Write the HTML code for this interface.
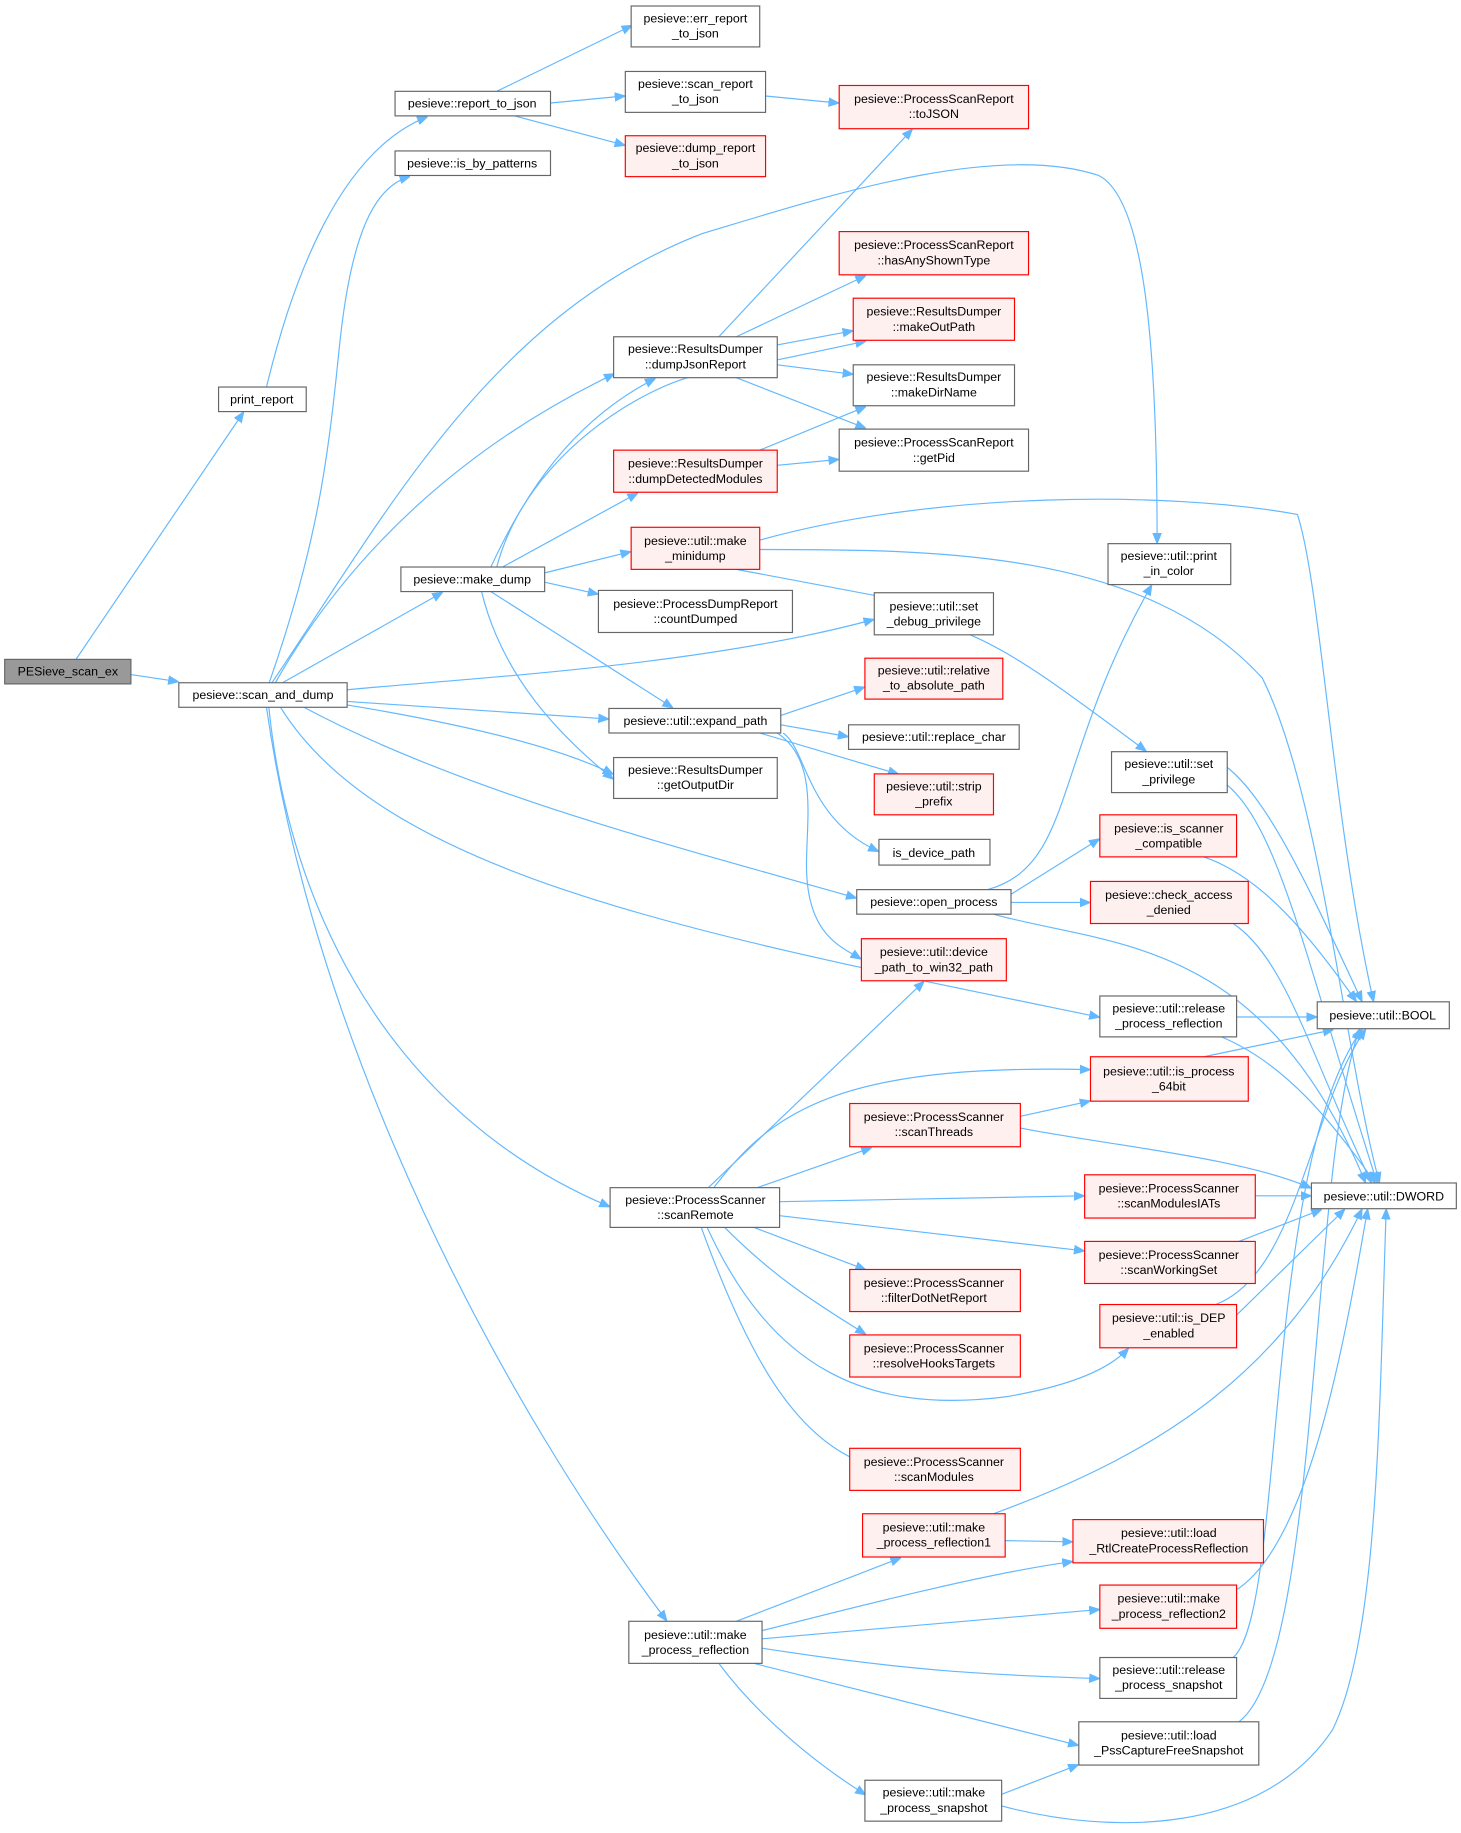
<!DOCTYPE html>
<html><head><meta charset="utf-8"><style>
html,body{margin:0;padding:0;background:#fff;}
svg{display:block;}
text{font-family:"Liberation Sans",Arial,sans-serif;font-size:10.6px;fill:#000;text-anchor:middle;}
.g{fill:#fff;stroke:#666;stroke-width:1;}
.r{fill:#fff0f0;stroke:#f00;stroke-width:1;}
.d{fill:#999;stroke:#666;stroke-width:1;}
path{fill:none;stroke:#63b8ff;stroke-width:1;}
</style></head><body>
<svg width="1461" height="1833" viewBox="0 0 1250 1568" xmlns="http://www.w3.org/2000/svg">
<defs><marker id="a" viewBox="0 0 10 10" refX="9" refY="5" markerWidth="9" markerHeight="9" orient="auto" markerUnits="userSpaceOnUse"><path d="M0,1 L10,5 L0,9 z" style="fill:#63b8ff;stroke:#63b8ff"/></marker></defs>
<g marker-end="url(#a)">
<path d="M65,564 L208,353"/>
<path d="M112,577 L152,583"/>
<path d="M228,331 C250,240 290,130 365,100"/>
<path d="M425,78 L540,22"/>
<path d="M471,88 L534,82"/>
<path d="M440,99 L534,124"/>
<path d="M655,82 L717,88"/>
<path d="M230,585 C270,470 280,400 290,300 C300,200 320,160 350,151"/>
<path d="M232,585 C330,440 420,270 600,200 C700,170 850,120 940,150 C980,170 990,300 990,464"/>
<path d="M235,585 C300,470 400,380 525,320"/>
<path d="M240,585 L378,507"/>
<path d="M297,590 C400,580 600,570 747,530"/>
<path d="M297,600 L520,615"/>
<path d="M297,603 C400,620 480,640 524,662"/>
<path d="M260,605 C400,680 600,730 732,768"/>
<path d="M240,605 C330,750 600,800 940,870"/>
<path d="M230,605 C250,800 350,960 521,1032"/>
<path d="M228,605 C270,900 430,1200 570,1386"/>
<path d="M615,288 L780,111"/>
<path d="M630,288 L740,236"/>
<path d="M665,295 L729,283"/>
<path d="M665,312 L729,320"/>
<path d="M630,323 L740,366"/>
<path d="M650,385 L740,348"/>
<path d="M665,398 L717,393"/>
<path d="M420,485 C450,420 490,360 560,324"/>
<path d="M425,485 C450,390 550,330 600,320 C660,310 700,300 740,292"/>
<path d="M430,485 L545,422"/>
<path d="M466,490 L539,472"/>
<path d="M466,498 L511,508"/>
<path d="M420,506 L575,605"/>
<path d="M412,506 C430,580 480,630 524,666"/>
<path d="M650,462 C800,420 1000,420 1110,440 C1130,500 1140,700 1175,856"/>
<path d="M650,470 C800,470 980,470 1080,580 C1130,680 1150,900 1180,1011"/>
<path d="M630,487 L768,513"/>
<path d="M830,543 C870,560 910,590 980,642"/>
<path d="M668,612 L739,588"/>
<path d="M668,620 L725,630"/>
<path d="M650,627 L768,662"/>
<path d="M670,627 C690,640 690,700 751,728"/>
<path d="M665,627 C700,650 690,700 690,740 C690,800 720,810 736,820"/>
<path d="M1040,650 C1080,670 1120,760 1165,856"/>
<path d="M1030,660 C1090,680 1110,800 1178,1011"/>
<path d="M1030,733 C1080,750 1120,800 1160,856"/>
<path d="M845,761 C920,740 900,650 985,501"/>
<path d="M865,765 L940,718"/>
<path d="M865,772 L932,772"/>
<path d="M850,782 C950,810 1080,800 1168,1011"/>
<path d="M1055,790 C1100,820 1120,900 1173,1011"/>
<path d="M1058,870 L1126,870"/>
<path d="M1045,887 C1100,910 1140,960 1176,1011"/>
<path d="M1030,904 L1140,881"/>
<path d="M873,955 L932,942"/>
<path d="M873,965 C950,980 1060,990 1121,1016"/>
<path d="M605,1017 L790,840"/>
<path d="M610,1017 C660,950 720,910 932,915"/>
<path d="M645,1017 L745,982"/>
<path d="M667,1028 L927,1023"/>
<path d="M667,1040 L927,1070"/>
<path d="M645,1050 L740,1086"/>
<path d="M620,1050 C660,1090 690,1110 740,1141"/>
<path d="M605,1050 C660,1170 740,1210 860,1195 C920,1185 950,1170 965,1154"/>
<path d="M600,1050 C640,1160 680,1230 740,1252"/>
<path d="M1074,1023 L1121,1023"/>
<path d="M1060,1062 L1130,1035"/>
<path d="M1040,1116 C1110,1090 1120,950 1168,881"/>
<path d="M1058,1125 L1150,1035"/>
<path d="M630,1387 L770,1333"/>
<path d="M652,1395 C750,1370 850,1345 917,1336"/>
<path d="M652,1402 L940,1377"/>
<path d="M652,1410 C780,1430 850,1433 940,1436"/>
<path d="M645,1423 L922,1493"/>
<path d="M615,1423 C650,1470 700,1510 740,1535"/>
<path d="M860,1318 L917,1319"/>
<path d="M850,1295 C1000,1240 1100,1170 1165,1035"/>
<path d="M1058,1360 C1120,1320 1150,1150 1170,1035"/>
<path d="M1055,1418 C1100,1380 1080,1000 1165,881"/>
<path d="M1060,1473 C1130,1420 1120,1000 1163,881"/>
<path d="M857,1535 L922,1510"/>
<path d="M857,1545 C950,1570 1080,1570 1140,1480 C1180,1400 1180,1200 1186,1035"/>
</g>
<rect class="d" x="4" y="564" width="108" height="21"/><text x="58" y="578">PESieve_scan_ex</text>
<rect class="g" x="153" y="584" width="144" height="21"/><text x="225" y="598">pesieve::scan_and_dump</text>
<rect class="g" x="187" y="331" width="75" height="21"/><text x="224" y="345">print_report</text>
<rect class="g" x="338" y="78" width="133" height="21"/><text x="404" y="92">pesieve::report_to_json</text>
<rect class="g" x="338" y="129" width="133" height="21"/><text x="404" y="143">pesieve::is_by_patterns</text>
<rect class="g" x="540" y="5" width="110" height="35"/><text x="595" y="19">pesieve::err_report</text><text x="595" y="32">_to_json</text>
<rect class="g" x="535" y="61" width="120" height="35"/><text x="595" y="75">pesieve::scan_report</text><text x="595" y="88">_to_json</text>
<rect class="r" x="535" y="116" width="120" height="35"/><text x="595" y="130">pesieve::dump_report</text><text x="595" y="143">_to_json</text>
<rect class="r" x="718" y="73" width="162" height="37"/><text x="799" y="88">pesieve::ProcessScanReport</text><text x="799" y="101">::toJSON</text>
<rect class="r" x="718" y="198" width="162" height="37"/><text x="799" y="213">pesieve::ProcessScanReport</text><text x="799" y="226">::hasAnyShownType</text>
<rect class="r" x="730" y="255" width="138" height="36"/><text x="799" y="270">pesieve::ResultsDumper</text><text x="799" y="283">::makeOutPath</text>
<rect class="g" x="730" y="312" width="138" height="35"/><text x="799" y="326">pesieve::ResultsDumper</text><text x="799" y="339">::makeDirName</text>
<rect class="g" x="718" y="367" width="162" height="36"/><text x="799" y="382">pesieve::ProcessScanReport</text><text x="799" y="395">::getPid</text>
<rect class="g" x="525" y="288" width="140" height="35"/><text x="595" y="302">pesieve::ResultsDumper</text><text x="595" y="315">::dumpJsonReport</text>
<rect class="r" x="525" y="385" width="140" height="36"/><text x="595" y="400">pesieve::ResultsDumper</text><text x="595" y="413">::dumpDetectedModules</text>
<rect class="r" x="540" y="451" width="110" height="36"/><text x="595" y="466">pesieve::util::make</text><text x="595" y="479">_minidump</text>
<rect class="g" x="343" y="485" width="123" height="21"/><text x="404" y="499">pesieve::make_dump</text>
<rect class="g" x="512" y="505" width="166" height="36"/><text x="595" y="520">pesieve::ProcessDumpReport</text><text x="595" y="533">::countDumped</text>
<rect class="g" x="748" y="507" width="102" height="36"/><text x="799" y="522">pesieve::util::set</text><text x="799" y="535">_debug_privilege</text>
<rect class="g" x="948" y="465" width="105" height="35"/><text x="1000" y="479">pesieve::util::print</text><text x="1000" y="492">_in_color</text>
<rect class="g" x="521" y="606" width="147" height="21"/><text x="595" y="620">pesieve::util::expand_path</text>
<rect class="r" x="740" y="563" width="118" height="35"/><text x="799" y="577">pesieve::util::relative</text><text x="799" y="590">_to_absolute_path</text>
<rect class="g" x="726" y="620" width="146" height="21"/><text x="799" y="634">pesieve::util::replace_char</text>
<rect class="r" x="748" y="662" width="102" height="35"/><text x="799" y="676">pesieve::util::strip</text><text x="799" y="689">_prefix</text>
<rect class="g" x="525" y="648" width="140" height="35"/><text x="595" y="662">pesieve::ResultsDumper</text><text x="595" y="675">::getOutputDir</text>
<rect class="g" x="752" y="718" width="95" height="22"/><text x="799" y="733">is_device_path</text>
<rect class="g" x="951" y="643" width="99" height="35"/><text x="1000" y="657">pesieve::util::set</text><text x="1000" y="670">_privilege</text>
<rect class="r" x="941" y="697" width="117" height="36"/><text x="1000" y="712">pesieve::is_scanner</text><text x="1000" y="725">_compatible</text>
<rect class="g" x="733" y="761" width="132" height="21"/><text x="799" y="775">pesieve::open_process</text>
<rect class="r" x="933" y="754" width="135" height="36"/><text x="1000" y="769">pesieve::check_access</text><text x="1000" y="782">_denied</text>
<rect class="r" x="737" y="803" width="124" height="36"/><text x="799" y="818">pesieve::util::device</text><text x="799" y="831">_path_to_win32_path</text>
<rect class="g" x="941" y="852" width="117" height="35"/><text x="1000" y="866">pesieve::util::release</text><text x="1000" y="879">_process_reflection</text>
<rect class="g" x="1127" y="857" width="113" height="23"/><text x="1183" y="872">pesieve::util::BOOL</text>
<rect class="r" x="933" y="904" width="135" height="38"/><text x="1000" y="920">pesieve::util::is_process</text><text x="1000" y="933">_64bit</text>
<rect class="r" x="727" y="944" width="146" height="37"/><text x="799" y="959">pesieve::ProcessScanner</text><text x="799" y="972">::scanThreads</text>
<rect class="g" x="522" y="1016" width="145" height="34"/><text x="595" y="1030">pesieve::ProcessScanner</text><text x="595" y="1043">::scanRemote</text>
<rect class="r" x="928" y="1005" width="146" height="37"/><text x="1000" y="1020">pesieve::ProcessScanner</text><text x="1000" y="1033">::scanModulesIATs</text>
<rect class="g" x="1122" y="1012" width="124" height="22"/><text x="1184" y="1027">pesieve::util::DWORD</text>
<rect class="r" x="928" y="1062" width="146" height="36"/><text x="1000" y="1077">pesieve::ProcessScanner</text><text x="1000" y="1090">::scanWorkingSet</text>
<rect class="r" x="727" y="1086" width="146" height="36"/><text x="799" y="1101">pesieve::ProcessScanner</text><text x="799" y="1114">::filterDotNetReport</text>
<rect class="r" x="941" y="1116" width="117" height="37"/><text x="1000" y="1131">pesieve::util::is_DEP</text><text x="1000" y="1144">_enabled</text>
<rect class="r" x="727" y="1142" width="146" height="36"/><text x="799" y="1157">pesieve::ProcessScanner</text><text x="799" y="1170">::resolveHooksTargets</text>
<rect class="r" x="727" y="1239" width="146" height="36"/><text x="799" y="1254">pesieve::ProcessScanner</text><text x="799" y="1267">::scanModules</text>
<rect class="r" x="738" y="1295" width="122" height="37"/><text x="799" y="1310">pesieve::util::make</text><text x="799" y="1323">_process_reflection1</text>
<rect class="r" x="918" y="1300" width="163" height="37"/><text x="1000" y="1315">pesieve::util::load</text><text x="1000" y="1328">_RtlCreateProcessReflection</text>
<rect class="r" x="941" y="1356" width="117" height="37"/><text x="1000" y="1371">pesieve::util::make</text><text x="1000" y="1384">_process_reflection2</text>
<rect class="g" x="538" y="1387" width="114" height="36"/><text x="595" y="1402">pesieve::util::make</text><text x="595" y="1415">_process_reflection</text>
<rect class="g" x="941" y="1418" width="117" height="35"/><text x="1000" y="1432">pesieve::util::release</text><text x="1000" y="1445">_process_snapshot</text>
<rect class="g" x="923" y="1473" width="154" height="37"/><text x="1000" y="1488">pesieve::util::load</text><text x="1000" y="1501">_PssCaptureFreeSnapshot</text>
<rect class="g" x="740" y="1523" width="117" height="35"/><text x="799" y="1537">pesieve::util::make</text><text x="799" y="1550">_process_snapshot</text>
</svg>
</body></html>
